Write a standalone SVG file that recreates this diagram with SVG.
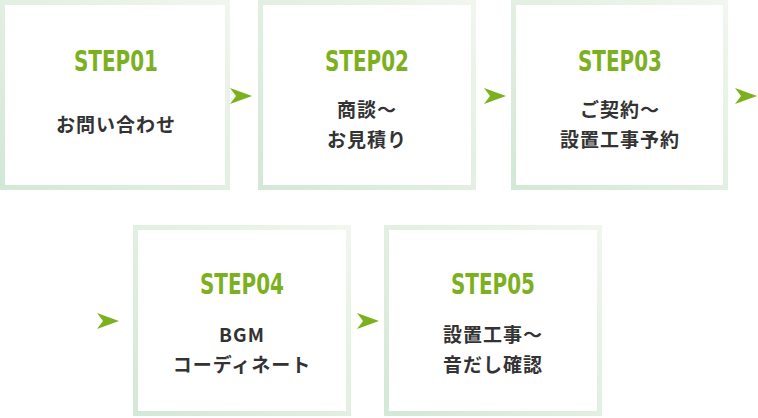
<svg xmlns="http://www.w3.org/2000/svg" width="758" height="418" viewBox="0 0 758 418">
<defs>
<linearGradient id="g" x1="0" y1="1" x2="1" y2="0">
<stop offset="0" stop-color="#d3e8d6"/><stop offset="1" stop-color="#f1f6ee"/>
</linearGradient>
<path id="arr" d="M0,0 L22,8 L0,16 L6,8 Z" fill="#7cb01f"/>
</defs>
<style>
.box{fill:#fff;stroke:url(#g);stroke-width:5}
.st{font-family:"DejaVu Sans Condensed","DejaVu Sans",sans-serif;font-weight:bold;font-size:29px;fill:#7cb01f;text-anchor:middle}
.t{font-family:"Noto Sans CJK JP",sans-serif;font-weight:bold;font-size:19px;letter-spacing:1px;fill:#333;text-anchor:middle}
</style>
<g id="step1"><rect class="box" x="2.5" y="2.5" width="225" height="185"/>
<text class="st" x="116" y="71" textLength="84" lengthAdjust="spacingAndGlyphs">STEP01</text>
<text class="t" x="116" y="132">お問い合わせ</text></g>
<g id="step2"><rect class="box" x="260.5" y="2.5" width="213" height="185"/>
<text class="st" x="367" y="71" textLength="84" lengthAdjust="spacingAndGlyphs">STEP02</text>
<text class="t" x="367" y="117">商談～</text><text class="t" x="367" y="147">お見積り</text></g>
<g id="step3"><rect class="box" x="513.5" y="2.5" width="212" height="185"/>
<text class="st" x="620" y="71" textLength="84" lengthAdjust="spacingAndGlyphs">STEP03</text>
<text class="t" x="620" y="117">ご契約～</text><text class="t" x="620" y="147">設置工事予約</text></g>
<g id="step4"><rect class="box" x="135.5" y="227.5" width="213" height="186"/>
<text class="st" x="242" y="294" textLength="84" lengthAdjust="spacingAndGlyphs">STEP04</text>
<text class="t" x="242" y="342">BGM</text><text class="t" x="242" y="372">コーディネート</text></g>
<g id="step5"><rect class="box" x="386.5" y="227.5" width="213" height="186"/>
<text class="st" x="493" y="294" textLength="84" lengthAdjust="spacingAndGlyphs">STEP05</text>
<text class="t" x="493" y="342">設置工事～</text><text class="t" x="493" y="372">音だし確認</text></g>
<g id="connectors">
<use href="#arr" x="230" y="88"/>
<use href="#arr" x="484" y="88"/>
<use href="#arr" x="735" y="88"/>
<use href="#arr" x="97" y="313"/>
<use href="#arr" x="357" y="313"/>
</g>
</svg>
